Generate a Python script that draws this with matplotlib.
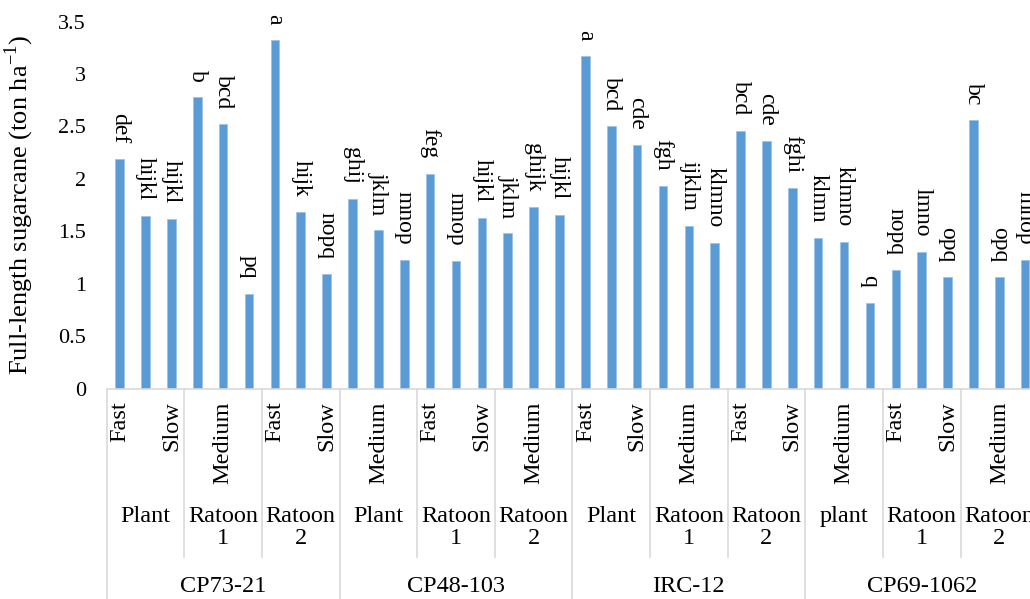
import matplotlib.pyplot as plt
import numpy as np

plt.rcParams['font.family'] = ['Liberation Serif', 'DejaVu Serif']

varieties = ['CP73-21', 'CP48-103', 'IRC-12', 'CP69-1062']
crops = [['Plant', 'Ratoon\n1', 'Ratoon\n2'],
         ['Plant', 'Ratoon\n1', 'Ratoon\n2'],
         ['Plant', 'Ratoon\n1', 'Ratoon\n2'],
         ['plant', 'Ratoon\n1', 'Ratoon\n2']]
speeds = ['Fast', 'Medium', 'Slow']

# yield values, 36 bars (variety > crop > speed)
values = [2.19, 1.65, 1.62, 2.78, 2.52, 0.90, 3.33, 1.68, 1.09,
          1.81, 1.51, 1.23, 2.05, 1.22, 1.63, 1.48, 1.73, 1.66,
          3.17, 2.50, 2.32, 1.93, 1.55, 1.39, 2.46, 2.36, 1.91,
          1.44, 1.40, 0.82, 1.13, 1.30, 1.06, 2.56, 1.06, 1.23]
letters = ['def', 'hijkl', 'hijkl', 'b', 'bcd', 'pq', 'a', 'hijk', 'nopq',
           'ghij', 'jklm', 'mnop', 'feg', 'mnop', 'hijkl', 'jklm', 'ghijk', 'hijkl',
           'a', 'bcd', 'cde', 'fgh', 'ijklm', 'klmno', 'bcd', 'cde', 'fghi',
           'klmn', 'klmno', 'q', 'nopq', 'lmno', 'opq', 'bc', 'opq', 'mnop']

fs = 17.5
grey = '#D9D9D9'
x = np.arange(len(values))

fig = plt.figure(figsize=(10.3, 5.99), dpi=100)
ax = fig.add_axes([0.1036, 0.3514, 0.9043, 0.6124])

ax.bar(x, values, width=0.33, color='#5B9BD5', edgecolor='#9DC3E6', linewidth=0.6)

for xi, v, t in zip(x, values, letters):
    ax.annotate(t, (xi, v), xytext=(0, 11), textcoords='offset points',
                rotation=270, ha='center', va='bottom', fontsize=17)

ax.set_xlim(-0.5, len(values) - 0.5)
ax.set_ylim(0, 3.5)
ax.set_yticks(np.arange(0, 3.6, 0.5))
ax.set_yticklabels(['0', '0.5', '1', '1.5', '2', '2.5', '3', '3.5'])
ax.tick_params(axis='y', length=0, pad=15, labelsize=16)
ax.set_xticks([])
for s in ['top', 'right', 'left']:
    ax.spines[s].set_visible(False)
ax.spines['bottom'].set_color(grey)
ax.spines['bottom'].set_linewidth(1.2)

ax.set_ylabel('Full-length sugarcane (ton ha$^{\\mathregular{-1}}$)', fontsize=19)
ax.yaxis.set_label_coords(-0.076, 0.5)

tr = ax.get_xaxis_transform()
h = 366.8  # axes height in px, used for offsets below the axis

# speed labels (every second one, as in the original)
for i in range(0, len(values), 2):
    ax.text(i, -13 / h, speeds[i % 3], transform=tr, rotation=90,
            ha='center', va='top', fontsize=fs)

# crop labels and separators
for vi in range(len(varieties)):
    for ci in range(3):
        g = vi * 9 + ci * 3
        ax.text(g + 1, -117 / h, crops[vi][ci], transform=tr, ha='center', va='top',
                fontsize=fs, linespacing=1.1)
        if ci > 0:
            ax.plot([g - 0.5, g - 0.5], [0, -168 / h], transform=tr, color=grey,
                    lw=1.2, clip_on=False)
    ax.text(vi * 9 + 4, -198 / h, varieties[vi], transform=tr, ha='center', va='center',
            fontsize=fs)

for b in range(0, len(values) + 1, 9):
    ax.plot([b - 0.5, b - 0.5], [0, -230 / h], transform=tr, color=grey,
            lw=1.2, clip_on=False)

plt.savefig('out.png', dpi=100)
